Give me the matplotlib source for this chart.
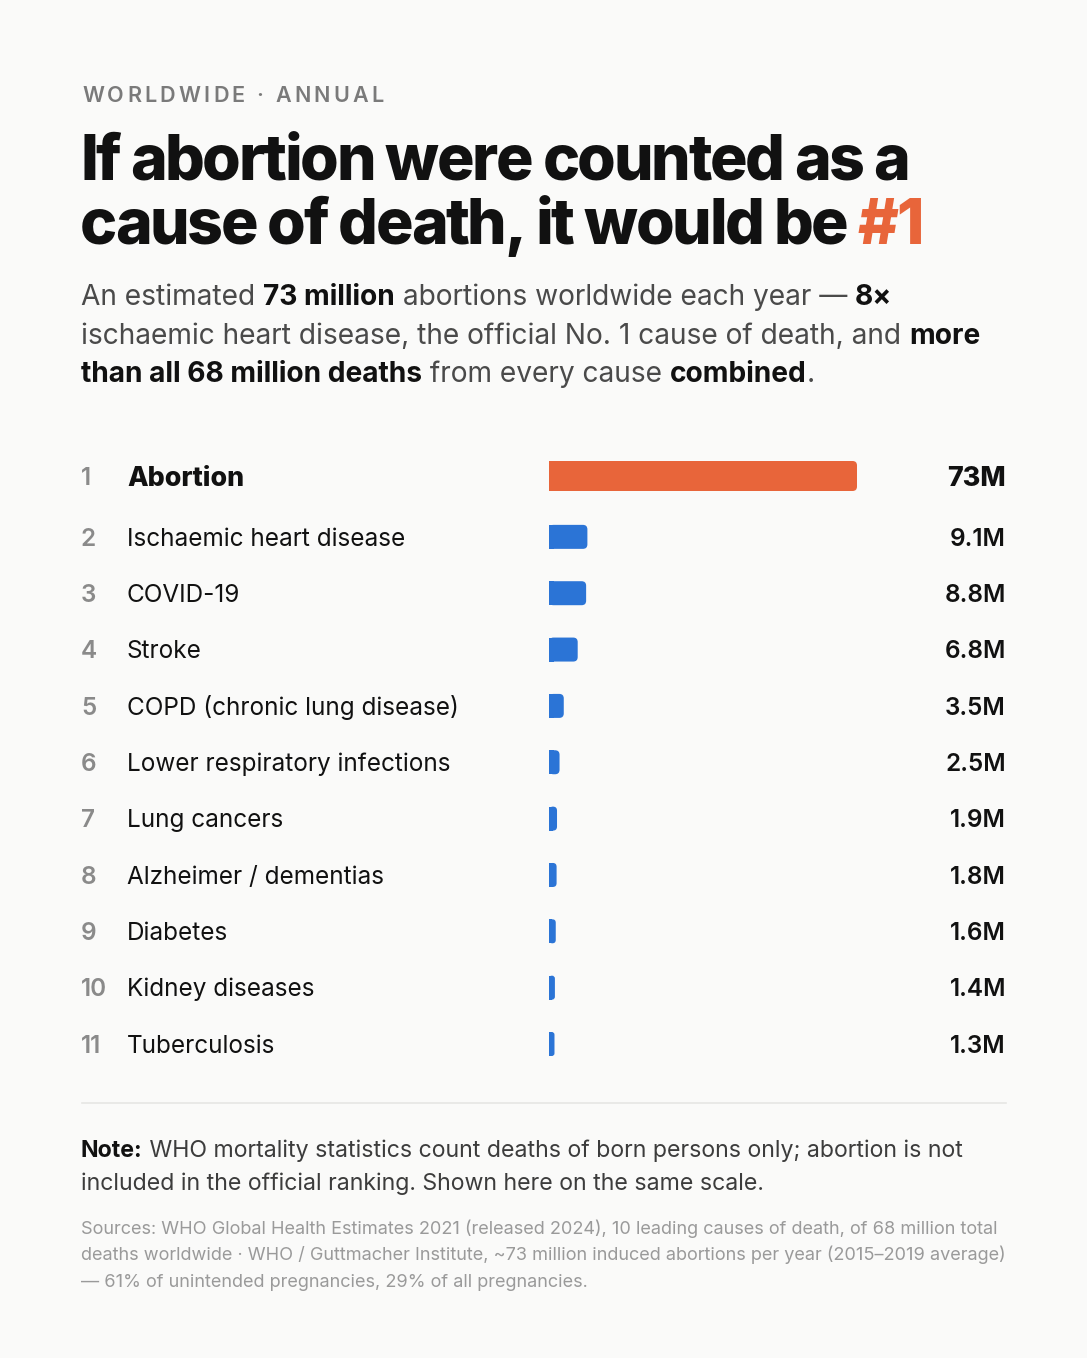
import matplotlib
matplotlib.use('Agg')
import matplotlib.pyplot as plt
from matplotlib.patches import FancyBboxPatch, Rectangle
from matplotlib import transforms
import numpy as np

W, H = 1087, 1358
DPI = 100

# ---------------- data ----------------
ranks = [1, 2, 3, 4, 5, 6, 7, 8, 9, 10, 11]
causes = ["Abortion", "Ischaemic heart disease", "COVID-19", "Stroke",
          "COPD (chronic lung disease)", "Lower respiratory infections",
          "Lung cancers", "Alzheimer / dementias", "Diabetes",
          "Kidney diseases", "Tuberculosis"]
values = [73, 9.1, 8.8, 6.8, 3.5, 2.5, 1.9, 1.8, 1.6, 1.4, 1.3]
value_labels = ["73M", "9.1M", "8.8M", "6.8M", "3.5M", "2.5M", "1.9M",
                "1.8M", "1.6M", "1.4M", "1.3M"]

BG = '#fafaf9'
ORANGE = '#e8653a'
BLUE = '#2b74d6'
DARK = '#111111'
FONT = ['Inter', 'DejaVu Sans']

plt.rcParams['font.family'] = FONT

fig = plt.figure(figsize=(W / DPI, H / DPI), dpi=DPI, facecolor=BG)
renderer = fig.canvas.get_renderer()


def fx(x):
    return x / W


def fy(y):
    return 1 - y / H


def text_width(s, **kw):
    t1 = fig.text(0, 0, '|' + s + '|', **kw)
    w1 = t1.get_window_extent(renderer).width
    t1.remove()
    t0 = fig.text(0, 0, '||', **kw)
    w0 = t0.get_window_extent(renderer).width
    t0.remove()
    return w1 - w0


def rich(x, y, pieces, size):
    for s, kw in pieces:
        fig.text(fx(x), fy(y), s, fontsize=size, va='baseline', ha='left', **kw)
        x += text_width(s, fontsize=size, **kw)
    return x


def tracked(x, y, s, size, track, **kw):
    for ch in s:
        fig.text(fx(x), fy(y), ch, fontsize=size, va='baseline', ha='left', **kw)
        x += text_width(ch, fontsize=size, **kw) + track
    return x


# ---------------- header ----------------
tracked(82, 102, "WORLDWIDE · ANNUAL", 15.5, 3.2, color='#7a7a7a', fontweight='semibold')

TS = 45
TT = -2.3
tracked(80, 180, "If abortion were counted as a", TS, TT, color=DARK, fontweight='heavy')
xe = tracked(80, 244, "cause of death, it would be ", TS, TT, color=DARK, fontweight='heavy')
tracked(xe, 244, "#1", TS, TT, color=ORANGE, fontweight='heavy')

SS = 20.25
reg = dict(color='#4a4a4a', fontweight='normal')
bold = dict(color=DARK, fontweight='bold')
rich(81, 305, [("An estimated ", reg), ("73 million", bold),
               (" abortions worldwide each year — ", reg), ("8×", bold)], SS)
rich(81, 344, [("ischaemic heart disease, the official No. 1 cause of death, and ", reg),
               ("more", bold)], SS)
rich(81, 382, [("than all 68 million deaths", bold), (" from every cause ", reg),
               ("combined", bold), (".", reg)], SS)

# ---------------- bars ----------------
n = len(values)
ypos = np.arange(n) + (np.arange(n) > 0) * 0.08
ROW_PX = 56.35
top_px = 476 - ROW_PX / 2
bot_px = top_px + (ypos[-1] + 1) * ROW_PX
ax_left, ax_right = 549, 857
ax = fig.add_axes([fx(ax_left), fy(bot_px), (ax_right - ax_left) / W, (bot_px - top_px) / H])
ax.set_xlim(0, values[0])
ax.set_ylim(ypos[-1] + 0.5, -0.5)
ax.axis('off')
ax.patch.set_alpha(0)

px_per_x = (ax_right - ax_left) / values[0]
px_per_y = ROW_PX
aspect = px_per_x / px_per_y

for i, v in enumerate(values):
    h_px = 30 if i == 0 else 24
    h = h_px / px_per_y
    col = ORANGE if i == 0 else BLUE
    w_px = v * px_per_x
    r_px = min(4.5, w_px / 2, h_px / 2)
    r = r_px / px_per_x
    p = FancyBboxPatch((0, ypos[i] - h / 2), v, h,
                       boxstyle=f"round,pad=0,rounding_size={r}",
                       mutation_aspect=aspect, facecolor=col, edgecolor='none',
                       clip_on=False)
    ax.add_patch(p)
    sq = Rectangle((0, ypos[i] - h / 2), min(v / 2, r), h, facecolor=col,
                   edgecolor='none', clip_on=False)
    ax.add_patch(sq)

blend = transforms.blended_transform_factory(fig.transFigure, ax.transData)


def row_tr(size):
    cap = size * DPI / 72 * 0.727
    return transforms.offset_copy(blend, fig=fig, x=0, y=-cap / 2, units='dots')


LS = 17.5
BS = 19.3
for i in range(n):
    top = i == 0
    sz = BS if top else LS
    tr = row_tr(sz)
    ax.text(fx(81), ypos[i], str(ranks[i]), transform=row_tr(LS), fontsize=LS, va='baseline',
            ha='left', color='#8a8a8a', fontweight='semibold')
    ax.text(fx(127), ypos[i], causes[i], transform=tr, fontsize=sz, va='baseline',
            ha='left', color=DARK, fontweight='heavy' if top else 'normal')
    ax.text(fx(1006), ypos[i], value_labels[i], transform=tr, fontsize=sz,
            va='baseline', ha='right', color=DARK,
            fontweight='heavy' if top else 'semibold')

# ---------------- footer ----------------
fig.add_artist(plt.Line2D([fx(82), fx(1006)], [fy(1103), fy(1103)],
                          transform=fig.transFigure, color='#e6e6e4', linewidth=1.2))

NS = 16.65
rich(81, 1157, [("Note:", dict(color=DARK, fontweight='bold')),
                (" WHO mortality statistics count deaths of born persons only; abortion is not",
                 dict(color='#3c3c3c'))], NS)
rich(81, 1190, [("included in the official ranking. Shown here on the same scale.",
                 dict(color='#3c3c3c'))], NS)

FS = 13.05
src = dict(color='#9a9a9a')
rich(81, 1234, [("Sources: WHO Global Health Estimates 2021 (released 2024), 10 leading causes of death, of 68 million total", src)], FS)
rich(81, 1260, [("deaths worldwide · WHO / Guttmacher Institute, ~73 million induced abortions per year (2015–2019 average)", src)], FS)
rich(81, 1287, [("— 61% of unintended pregnancies, 29% of all pregnancies.", src)], FS)

fig.savefig('out.png', dpi=DPI, facecolor=BG)
